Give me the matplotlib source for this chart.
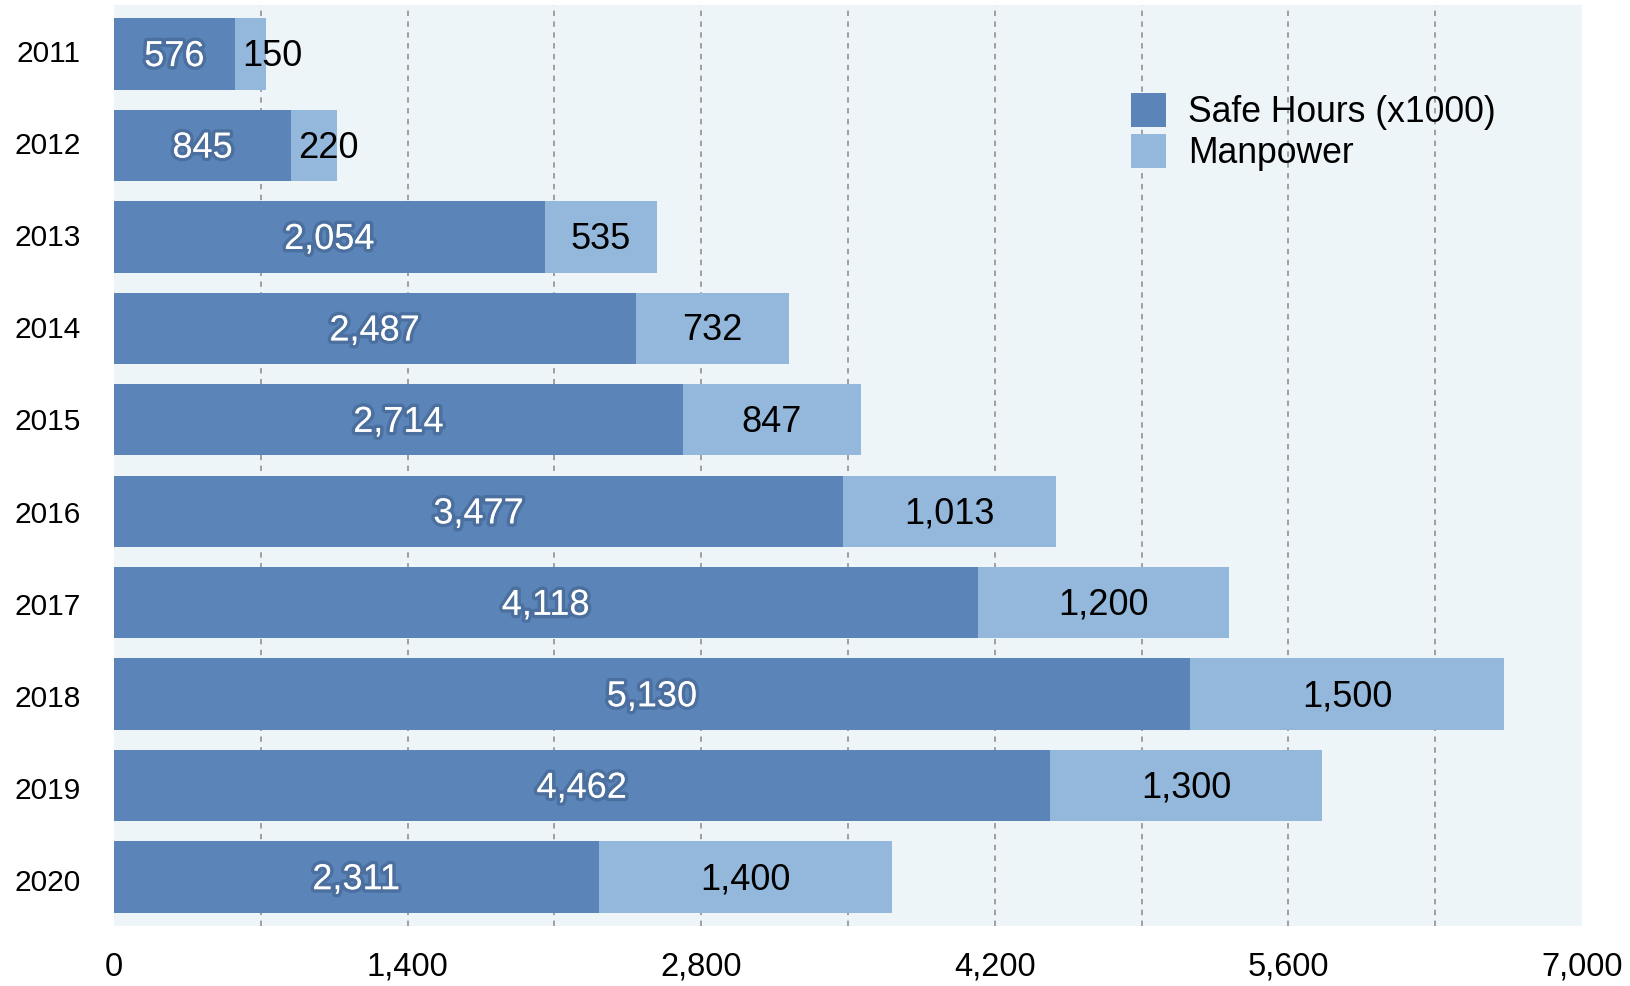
import matplotlib
matplotlib.use("Agg")
import matplotlib.pyplot as plt
import matplotlib.patheffects as pe
from matplotlib.ticker import FixedLocator, FuncFormatter

years = ["2011", "2012", "2013", "2014", "2015", "2016", "2017", "2018", "2019", "2020"]
safe_hours = [576, 845, 2054, 2487, 2714, 3477, 4118, 5130, 4462, 2311]
manpower = [150, 220, 535, 732, 847, 1013, 1200, 1500, 1300, 1400]
x_ticks = [0, 1400, 2800, 4200, 5600, 7000]
grid_lines = [700, 1400, 2100, 2800, 3500, 4200, 4900, 5600, 6300]

DARK = "#5b85b8"
LIGHT = "#94b8db"
BG = "#eef5f8"

plt.rcParams["font.family"] = ["Liberation Sans", "DejaVu Sans"]

fig = plt.figure(figsize=(16.3, 9.86), dpi=100)
ax = fig.add_axes([114 / 1630, 1 - 926 / 986, 1468 / 1630, 921 / 986])
ax.set_facecolor(BG)

pos = list(range(len(years)))
ax.barh(pos, safe_hours, height=0.78, color=DARK, label="Safe Hours (x1000)", zorder=2)
ax.barh(pos, manpower, left=safe_hours, height=0.78, color=LIGHT, label="Manpower", zorder=2)

# dotted vertical gridlines (not at 0 or 7000)
for g in grid_lines:
    ax.axvline(g, linestyle=(0, (3, 3)), color="#999999", linewidth=1.3, zorder=1)

shadow = [pe.withStroke(linewidth=5, foreground=(0.15, 0.25, 0.4, 0.3))]
for i, (s, m) in enumerate(zip(safe_hours, manpower)):
    ax.text(s / 2, i - 0.015, f"{s:,}", color="white", fontsize=26, ha="center",
            va="center_baseline", path_effects=shadow, zorder=3)
    if m < 300:
        # narrow segment: start the label just inside the segment
        ax.text(s + 35, i - 0.015, f"{m:,}", color="black", fontsize=26, ha="left",
                va="center_baseline", zorder=3)
    else:
        ax.text(s + m / 2, i - 0.015, f"{m:,}", color="black", fontsize=26, ha="center",
                va="center_baseline", zorder=3)

y_lo, y_hi = -0.535, 9.535
ax.set_xlim(0, 7000)
ax.set_ylim(y_hi, y_lo)
# year labels sit at the centres of equal bands over the full axis height
band = (y_hi - y_lo) / len(years)
ax.set_yticks([y_lo + (i + 0.5) * band for i in pos])
ax.set_yticklabels(years)
ax.xaxis.set_major_locator(FixedLocator(x_ticks))
ax.xaxis.set_major_formatter(FuncFormatter(lambda v, _: f"{int(v):,}"))
ax.tick_params(axis="y", length=0, pad=24, labelsize=21.5)
ax.tick_params(axis="x", length=0, pad=18.5, labelsize=23.5)
for sp in ax.spines.values():
    sp.set_visible(False)

ax.legend(loc="upper left", bbox_to_anchor=(0.683, 0.92), frameon=False, fontsize=25.6,
          handlelength=1.0, handleheight=1.12, handletextpad=0.6, labelspacing=0.1,
          borderaxespad=0)

fig.savefig("out.png", dpi=100)
